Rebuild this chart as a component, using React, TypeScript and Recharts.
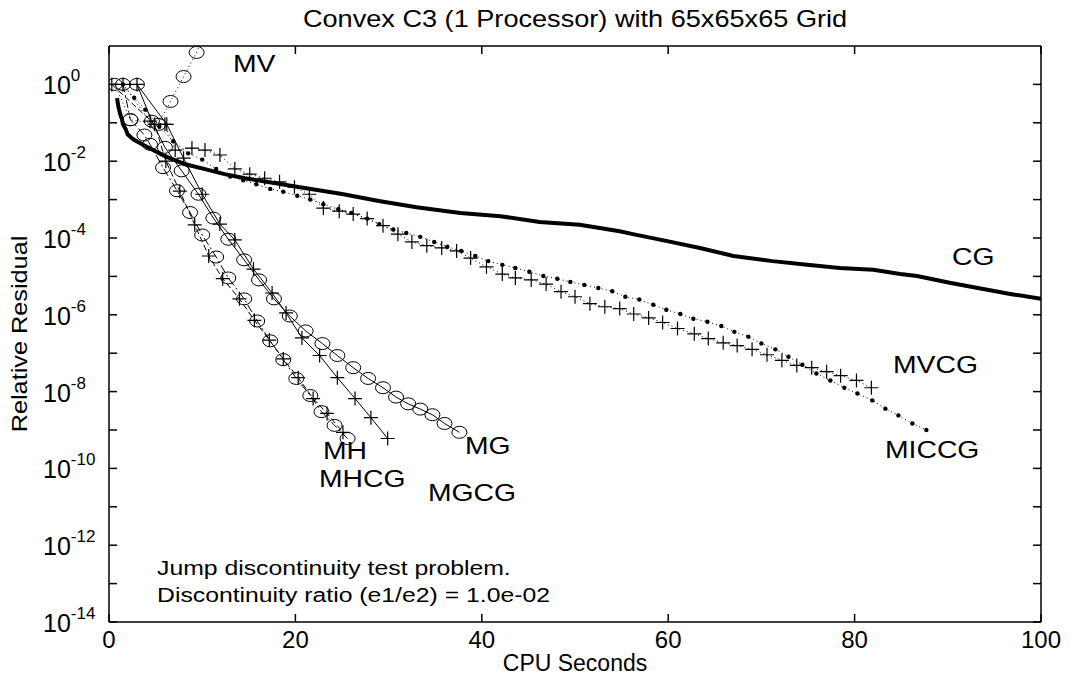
import { LineChart, Line, XAxis, YAxis } from 'recharts';

type Pt = [number, number];

// [cpu seconds, relative residual]
const CG: Pt[] = [
  [0.86, 4.4e-1], [1.0, 2.7e-1], [1.2, 1.7e-1], [1.4, 1.2e-1], [1.5, 9.1e-2], [1.8, 6.8e-2],
  [2.0, 5.0e-2], [2.6, 3.7e-2], [3.9, 2.5e-2], [6.0, 1.35e-2], [8.2, 8.3e-3], [10.3, 6.2e-3],
  [12.4, 4.6e-3], [14.6, 3.6e-3], [20, 2.2e-3], [25, 1.4e-3], [29.1, 9.1e-4], [33, 6.3e-4],
  [37.7, 4.5e-4], [42, 3.7e-4], [46.2, 2.6e-4], [50.5, 2.2e-4], [54.8, 1.5e-4], [56.2, 1.26e-4],
  [59.9, 8.3e-5], [63.4, 5.5e-5], [67, 3.4e-5], [71.2, 2.5e-5], [74.9, 2.0e-5], [78.4, 1.66e-5],
  [82, 1.48e-5], [84.9, 1.15e-5], [86.7, 1.02e-5], [90.2, 6.8e-6], [93.8, 4.7e-6], [96.7, 3.5e-6],
  [100, 2.6e-6],
];

const MICCG: Pt[] = [
  [1.5, 1.0], [2.7, 4.5e-1], [3.9, 2.2e-1], [5.4, 7.9e-2], [6.9, 3.3e-2], [8.5, 1.6e-2],
  [10.0, 1.1e-2], [11.5, 6.3e-3], [13.0, 4.0e-3], [14.4, 3.2e-3], [15.8, 2.5e-3], [17.3, 1.9e-3],
  [18.7, 1.6e-3], [20.2, 1.26e-3], [21.6, 1.0e-3], [23.0, 7.6e-4], [24.6, 5.6e-4], [26.0, 4.5e-4],
  [27.7, 3.2e-4], [29.0, 2.3e-4], [30.5, 1.66e-4], [31.9, 1.35e-4], [33.4, 1.07e-4], [34.9, 7.9e-5],
  [36.3, 5.9e-5], [37.8, 4.6e-5], [39.3, 3.4e-5], [40.7, 2.5e-5], [42.2, 2.0e-5], [43.6, 1.66e-5],
  [45.1, 1.32e-5], [46.6, 1.02e-5], [48.1, 8.7e-6], [49.5, 7.2e-6], [51.0, 6.0e-6], [52.5, 5.0e-6],
  [54.0, 4.1e-6], [55.4, 2.95e-6], [56.9, 2.5e-6], [58.4, 1.82e-6], [59.8, 1.35e-6], [61.3, 1.05e-6],
  [62.7, 7.9e-7], [64.2, 6.6e-7], [65.7, 5.1e-7], [67.1, 3.6e-7], [68.6, 2.7e-7], [70.0, 1.8e-7],
  [71.5, 1.26e-7], [72.9, 8.1e-8], [74.4, 5.0e-8], [75.9, 2.95e-8], [77.4, 1.95e-8], [78.9, 1.26e-8],
  [80.3, 8.9e-9], [81.9, 5.9e-9], [83.3, 3.6e-9], [84.7, 2.4e-9], [86.2, 1.48e-9], [87.7, 1.0e-9],
];

const MVCG: Pt[] = [
  [1.5, 1.0], [4.4, 1.1e-1], [6.0, 9.1e-2], [7.1, 1.95e-2], [8.9, 2.2e-2], [10.3, 1.95e-2],
  [11.9, 1.45e-2], [13.5, 6.3e-3], [15.1, 4.6e-3], [16.7, 3.6e-3], [18.3, 2.9e-3], [19.9, 2.1e-3],
  [21.5, 1.38e-3], [23.0, 6.0e-4], [24.7, 5.0e-4], [26.2, 4.2e-4], [27.7, 3.2e-4], [29.4, 2.1e-4],
  [31.0, 1.26e-4], [32.5, 7.9e-5], [34.1, 6.3e-5], [35.7, 5.5e-5], [37.3, 4.6e-5], [38.8, 3.0e-5],
  [40.5, 1.78e-5], [42.2, 1.15e-5], [43.6, 9.1e-6], [45.3, 8.1e-6], [46.9, 6.3e-6], [48.5, 4.0e-6],
  [50.0, 2.95e-6], [51.6, 1.95e-6], [53.2, 1.62e-6], [54.8, 1.45e-6], [56.3, 1.05e-6], [57.9, 8.3e-7],
  [59.4, 6.3e-7], [61.0, 4.4e-7], [62.8, 3.2e-7], [64.3, 2.4e-7], [65.9, 1.86e-7], [67.4, 1.58e-7],
  [69.0, 1.26e-7], [70.6, 9.1e-8], [72.2, 6.5e-8], [73.8, 4.8e-8], [75.4, 4.2e-8], [77.0, 3.3e-8],
  [78.5, 2.6e-8], [80.2, 1.95e-8], [81.8, 1.26e-8],
];

const MV: Pt[] = [
  [0.6, 1.0], [2.3, 1.2e-1], [5.3, 9.1e-2], [6.6, 3.6e-1], [8.0, 1.6], [9.4, 6.8], [10.6, 3.2e1],
];

const MG: Pt[] = [
  [3.0, 1.0], [4.6, 1.1e-1], [6.0, 2.3e-2], [7.8, 5.6e-3], [9.6, 1.38e-3], [11.2, 3.3e-4],
  [12.8, 9.3e-5], [14.5, 2.7e-5], [16.1, 8.1e-6], [17.7, 2.6e-6], [19.4, 9.3e-7], [21.1, 3.8e-7],
  [22.9, 1.78e-7], [24.5, 8.7e-8], [26.2, 4.2e-8], [27.8, 2.2e-8], [29.4, 1.26e-8], [30.8, 7.2e-9],
  [32.1, 4.8e-9], [33.4, 3.5e-9], [34.7, 2.5e-9], [36.0, 1.48e-9], [37.6, 8.7e-10],
];

const MGCG: Pt[] = [
  [3.0, 1.0], [6.2, 9.1e-2], [8.0, 1.2e-2], [10.0, 1.38e-3], [11.9, 2.3e-4], [13.5, 8.9e-5],
  [15.5, 1.55e-5], [17.5, 3.7e-6], [19.0, 1.12e-6], [20.7, 2.5e-7], [22.6, 8.7e-8], [24.5, 2.3e-8],
  [26.4, 6.6e-9], [28.1, 2.1e-9], [29.9, 6.0e-10],
];

const MH: Pt[] = [
  [1.5, 1.0], [2.3, 1.2e-1], [3.8, 4.8e-2], [4.4, 2.75e-2], [5.8, 6.8e-3], [7.3, 1.7e-3],
  [8.7, 4.6e-4], [10.0, 1.2e-4], [11.5, 3.2e-5], [12.8, 9.1e-6], [14.5, 2.6e-6], [15.9, 6.9e-7],
  [17.3, 2.1e-7], [18.7, 6.8e-8], [20.1, 2.2e-8], [21.6, 7.9e-9], [22.8, 3.0e-9], [24.2, 1.32e-9],
  [25.6, 6.0e-10],
];

const MHCG: Pt[] = [
  [0.3, 1.0], [4.9, 9.1e-2], [6.1, 1.0e-2], [7.6, 1.66e-3], [9.2, 2.2e-4], [10.7, 3.4e-5],
  [12.2, 8.7e-6], [14.0, 2.6e-6], [15.6, 7.2e-7], [17.2, 2.2e-7], [18.7, 7.1e-8], [20.3, 2.3e-8],
  [21.9, 6.6e-9], [23.4, 2.7e-9], [25.1, 8.7e-10],
];

const xTicks = [0, 20, 40, 60, 80, 100];
const yTicks = [
  1e-14, 1e-13, 1e-12, 1e-11, 1e-10, 1e-9, 1e-8, 1e-7, 1e-6, 1e-5, 1e-4, 1e-3, 1e-2, 1e-1, 1e0,
];

const curveLabels: { text: string; x: number; y: number }[] = [
  { text: 'MV', x: 233, y: 72 },
  { text: 'CG', x: 952, y: 265 },
  { text: 'MVCG', x: 893, y: 373 },
  { text: 'MICCG', x: 885, y: 458 },
  { text: 'MH', x: 323, y: 459 },
  { text: 'MHCG', x: 319, y: 487 },
  { text: 'MG', x: 465, y: 454 },
  { text: 'MGCG', x: 428, y: 501 },
];

const FONT = '"Liberation Sans", Arial, Helvetica, sans-serif';
const rows = (pts: Pt[]) => pts.map(([t, r]) => ({ t, r }));

const Ring = (p: any) =>
  p.cx == null ? <g key={p.index} /> : (
    <ellipse key={p.index} cx={p.cx} cy={p.cy} rx={7.5} ry={6} fill="none" stroke="#000" strokeWidth={1} />
  );

const Plus = (p: any) =>
  p.cx == null ? <g key={p.index} /> : (
    <path key={p.index} d={`M${p.cx - 7},${p.cy}h14M${p.cx},${p.cy - 7}v14`} stroke="#000" strokeWidth={1.2} />
  );

const Blob = (p: any) =>
  p.cx == null ? <g key={p.index} /> : <circle key={p.index} cx={p.cx} cy={p.cy} r={2.2} fill="#000" />;

const series = [
  { key: 'cg', data: CG, width: 4, dash: undefined, dot: false as any },
  { key: 'miccg', data: MICCG, width: 1, dash: '1 3', dot: Blob },
  { key: 'mvcg', data: MVCG, width: 1, dash: '1 3', dot: Plus },
  { key: 'mv', data: MV, width: 1, dash: '1 3', dot: Ring },
  { key: 'mg', data: MG, width: 1, dash: undefined, dot: Ring },
  { key: 'mgcg', data: MGCG, width: 1, dash: undefined, dot: Plus },
  { key: 'mh', data: MH, width: 1, dash: '8 3 2 3', dot: Ring },
  { key: 'mhcg', data: MHCG, width: 1, dash: '6 3', dot: Plus },
];

const YTick = ({ y, payload }: any) => {
  const e = Math.round(Math.log10(payload.value));
  if (e % 2 !== 0) return <g />;
  return (
    <text x={43} y={y + 10} fontSize={25} fontFamily={FONT} fill="#000">
      10<tspan dy={-13} fontSize={17}>{e}</tspan>
    </text>
  );
};

const XTick = ({ x, payload }: any) => (
  <text x={x} y={648} textAnchor="middle" fontSize={24} fontFamily={FONT} fill="#000">
    {payload.value}
  </text>
);

// top and right axes only carry inward tick marks
const NoLabel = () => <g />;

const Wide = ({ x, y, size, children, anchor = 'start' }: any) => (
  <text
    transform={`translate(${x},${y}) scale(1.18,1)`}
    fontSize={size}
    fontFamily={FONT}
    textAnchor={anchor}
    fill="#000"
  >
    {children}
  </text>
);

export default function App() {
  return (
    <div style={{ position: 'absolute', left: 0, top: 0, width: 1071, height: 677, background: '#fff' }}>
      <LineChart width={1071} height={677} margin={{ top: 45, right: 29, bottom: 15, left: 49 }}>
        <XAxis
          dataKey="t"
          type="number"
          domain={[0, 100]}
          ticks={xTicks}
          interval={0}
          height={40}
          tickSize={-8}
          tick={<XTick />}
          stroke="#000"
          strokeWidth={1.5}
          allowDataOverflow
        />
        <XAxis
          xAxisId="top"
          orientation="top"
          dataKey="t"
          type="number"
          domain={[0, 100]}
          ticks={xTicks}
          interval={0}
          height={1}
          tickSize={-8}
          tick={<NoLabel />}
          stroke="#000"
          strokeWidth={1.5}
          allowDataOverflow
        />
        <YAxis
          dataKey="r"
          type="number"
          scale="log"
          domain={[1e-14, 10]}
          ticks={yTicks}
          interval={0}
          width={60}
          tickSize={-8}
          tick={<YTick />}
          stroke="#000"
          strokeWidth={1.5}
          allowDataOverflow
        />
        <YAxis
          yAxisId="right"
          orientation="right"
          dataKey="r"
          type="number"
          scale="log"
          domain={[1e-14, 10]}
          ticks={yTicks}
          interval={0}
          width={1}
          tickSize={-8}
          tick={<NoLabel />}
          stroke="#000"
          strokeWidth={1.5}
          allowDataOverflow
        />
        {series.map((s) => (
          <Line
            key={s.key}
            data={rows(s.data)}
            dataKey="r"
            type="linear"
            stroke="#000"
            strokeWidth={s.width}
            strokeDasharray={s.dash}
            dot={s.dot}
            activeDot={false}
            isAnimationActive={false}
          />
        ))}
      </LineChart>
      <svg
        width={1071}
        height={677}
        style={{ position: 'absolute', left: 0, top: 0, pointerEvents: 'none' }}
      >
        <Wide x={575} y={27} size={23} anchor="middle">
          Convex C3 (1 Processor) with 65x65x65 Grid
        </Wide>
        <text x={575} y={671} textAnchor="middle" fontSize={23} fontFamily={FONT} fill="#000">
          CPU Seconds
        </text>
        <text
          transform="translate(27,334) rotate(-90) scale(1.15,1)"
          textAnchor="middle"
          fontSize={22}
          fontFamily={FONT}
          fill="#000"
        >
          Relative Residual
        </text>
        {curveLabels.map((l) => (
          <Wide key={l.text} x={l.x} y={l.y} size={24}>
            {l.text}
          </Wide>
        ))}
        <Wide x={157} y={575} size={21}>
          Jump discontinuity test problem.
        </Wide>
        <Wide x={157} y={602} size={21}>
          Discontinuity ratio (e1/e2) = 1.0e-02
        </Wide>
      </svg>
    </div>
  );
}
